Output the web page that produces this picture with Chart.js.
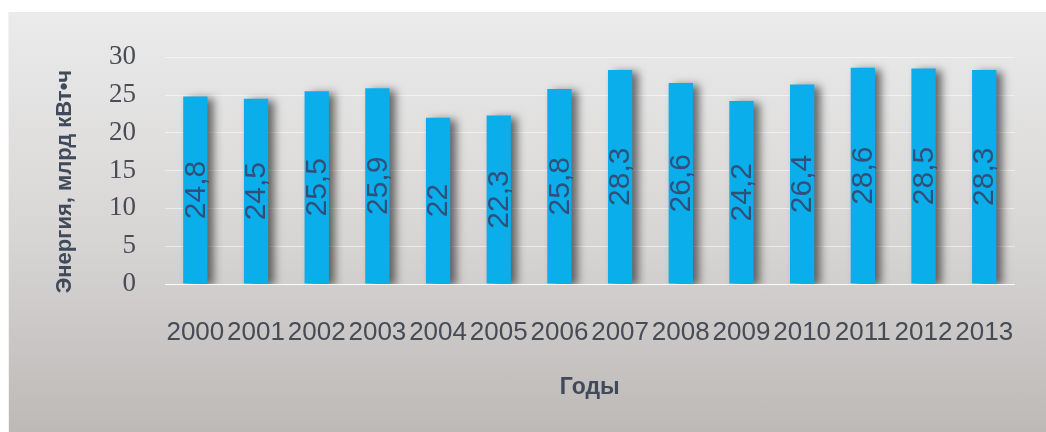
<!DOCTYPE html>
<html>
<head>
<meta charset="utf-8">
<script src="https://cdn.jsdelivr.net/npm/chart.js@4.4.0/dist/chart.umd.min.js"></script>
<style>
  body { margin: 0; background: #fff; }
  .box {
    position: absolute; left: 8px; top: 12px; width: 1038px; height: 420px;
    background: linear-gradient(#ebebeb, #d7d5d4 55%, #bcb9b7);
    border-left: 1px solid #f2f2f2;
  }
</style>
</head>
<body>
<div class="box"><canvas id="myChart" width="1038" height="420"></canvas></div>
<script>
const years = ['2000', '2001', '2002', '2003', '2004', '2005', '2006', '2007', '2008', '2009', '2010', '2011', '2012', '2013']
const energy = [24.8, 24.5, 25.5, 25.9, 22, 22.3, 25.8, 28.3, 26.6, 24.2, 26.4, 28.6, 28.5, 28.3]
const yTicks = [0, 5, 10, 15, 20, 25, 30]

// shadow under bars + value labels rotated inside them
const barDecor = {
  id: 'barDecor',
  beforeDatasetsDraw(chart) {
    const ctx = chart.ctx
    ctx.save()
    ctx.shadowColor = 'rgba(0,0,0,0.55)'
    ctx.shadowBlur = 9
    ctx.shadowOffsetX = 6
    ctx.shadowOffsetY = 2
  },
  afterDatasetsDraw(chart) {
    const ctx = chart.ctx
    ctx.restore()
    const meta = chart.getDatasetMeta(0)
    ctx.save()
    ctx.font = '30px "Liberation Sans"'
    ctx.fillStyle = '#30507a'
    ctx.textAlign = 'center'
    ctx.textBaseline = 'middle'
    meta.data.forEach(function (bar, i) {
      ctx.save()
      ctx.translate(bar.x + 1, (bar.y + bar.base) / 2)
      ctx.rotate(-Math.PI / 2)
      ctx.fillText(String(energy[i]).replace('.', ','), 0, 0)
      ctx.restore()
    })
    ctx.restore()
  }
}

var ctx = document.getElementById('myChart').getContext('2d')
var myChart = new Chart(ctx, {
  type: 'bar',
  data: {
    labels: years,
    datasets: [
      {
        label: '',
        data: energy,
        backgroundColor: '#0aaeeb',
        barPercentage: 0.4,
        categoryPercentage: 1
      }
    ]
  },
  plugins: [barDecor],
  options: {
    responsive: false,
    animation: false,
    layout: { padding: { left: 0, right: 25, top: 33, bottom: 0 } },
    plugins: {
      legend: { display: false },
      tooltip: { enabled: false }
    },
    scales: {
      x: {
        afterFit(scale) { scale.height = 148 },
        grid: { display: false, drawTicks: false },
        border: { display: true, color: 'rgba(255,255,255,0.8)' },
        ticks: {
          autoSkip: false, maxRotation: 0, padding: 33,
          color: '#474b55',
          font: { family: 'Liberation Sans', size: 26 }
        },
        title: {
          display: true, text: 'Годы', color: '#404a5a',
          font: { family: 'Liberation Sans', size: 23, weight: 'bold' },
          padding: { top: 0, bottom: 31 }
        }
      },
      y: {
        min: 0, max: 30,
        afterFit(scale) { scale.width = 156 },
        afterBuildTicks(scale) { scale.ticks = yTicks.map(v => ({ value: v })) },
        grid: { color: 'rgba(255,255,255,0.5)', drawTicks: false },
        border: { display: false },
        ticks: {
          padding: 29,
          color: '#4a4d55',
          font: { family: 'Liberation Serif', size: 27 }
        },
        title: {
          display: true, text: 'Энергия, млрд кВт•ч\u2002\u2002', color: '#404a5a',
          font: { family: 'Liberation Sans', size: 22, weight: 'bold' },
          padding: { top: 43, bottom: 0 }
        }
      }
    }
  }
})
</script>
</body>
</html>
